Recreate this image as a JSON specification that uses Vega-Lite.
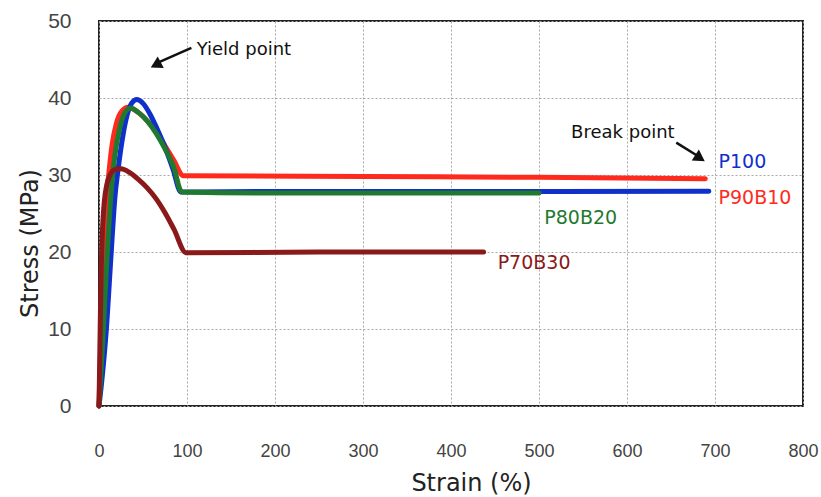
{
  "$schema": "https://vega.github.io/schema/vega-lite/v6.json",
  "width": 704,
  "height": 385,
  "autosize": {"type": "none"},
  "padding": {"left": 99, "top": 21, "right": 18, "bottom": 91},
  "background": "white",
  "config": {
    "view": {"stroke": "#222", "strokeWidth": 2},
    "font": "DejaVu Sans",
    "axis": {
      "grid": true,
      "gridColor": "#aaa",
      "gridDash": [2, 2],
      "gridWidth": 1,
      "domain": false,
      "ticks": false,
      "labelFlush": false,
      "labelFont": "Liberation Sans",
      "labelFontSize": 18,
      "labelColor": "#444",
      "titleFont": "DejaVu Sans",
      "titleFontSize": 24,
      "titleFontWeight": "normal",
      "titleColor": "#222"
    }
  },
  "datasets": {
    "curves": [
      {"series": "P90B10", "strain": 0, "stress": 0},
      {"series": "P90B10", "strain": 1.5, "stress": 6},
      {"series": "P90B10", "strain": 3, "stress": 12},
      {"series": "P90B10", "strain": 5, "stress": 19},
      {"series": "P90B10", "strain": 8, "stress": 26},
      {"series": "P90B10", "strain": 11, "stress": 30},
      {"series": "P90B10", "strain": 15, "stress": 34},
      {"series": "P90B10", "strain": 20, "stress": 36.8},
      {"series": "P90B10", "strain": 26, "stress": 38.3},
      {"series": "P90B10", "strain": 33, "stress": 38.8},
      {"series": "P90B10", "strain": 45, "stress": 38.1},
      {"series": "P90B10", "strain": 55, "stress": 37.0},
      {"series": "P90B10", "strain": 65, "stress": 35.6},
      {"series": "P90B10", "strain": 75, "stress": 33.8},
      {"series": "P90B10", "strain": 85, "stress": 31.9},
      {"series": "P90B10", "strain": 96, "stress": 29.9},
      {"series": "P90B10", "strain": 300, "stress": 29.8},
      {"series": "P90B10", "strain": 500, "stress": 29.7},
      {"series": "P90B10", "strain": 689, "stress": 29.5},
      {"series": "P100", "strain": 0, "stress": 0},
      {"series": "P100", "strain": 2.5, "stress": 2.5},
      {"series": "P100", "strain": 5.5, "stress": 6},
      {"series": "P100", "strain": 9, "stress": 11},
      {"series": "P100", "strain": 12, "stress": 16.5},
      {"series": "P100", "strain": 15, "stress": 22},
      {"series": "P100", "strain": 18, "stress": 27},
      {"series": "P100", "strain": 22, "stress": 31},
      {"series": "P100", "strain": 27, "stress": 35},
      {"series": "P100", "strain": 32, "stress": 37.8},
      {"series": "P100", "strain": 37, "stress": 39.3},
      {"series": "P100", "strain": 43, "stress": 39.8},
      {"series": "P100", "strain": 50, "stress": 39.3},
      {"series": "P100", "strain": 58, "stress": 37.9},
      {"series": "P100", "strain": 66, "stress": 36.0},
      {"series": "P100", "strain": 75, "stress": 33.6},
      {"series": "P100", "strain": 84, "stress": 30.8},
      {"series": "P100", "strain": 93, "stress": 27.8},
      {"series": "P100", "strain": 200, "stress": 27.85},
      {"series": "P100", "strain": 400, "stress": 27.85},
      {"series": "P100", "strain": 693, "stress": 27.9},
      {"series": "P80B20", "strain": 0, "stress": 0},
      {"series": "P80B20", "strain": 2.5, "stress": 5},
      {"series": "P80B20", "strain": 5, "stress": 10},
      {"series": "P80B20", "strain": 8, "stress": 17},
      {"series": "P80B20", "strain": 11, "stress": 23},
      {"series": "P80B20", "strain": 14, "stress": 28},
      {"series": "P80B20", "strain": 18, "stress": 32.5},
      {"series": "P80B20", "strain": 23, "stress": 35.8},
      {"series": "P80B20", "strain": 29, "stress": 38},
      {"series": "P80B20", "strain": 36, "stress": 38.7},
      {"series": "P80B20", "strain": 45, "stress": 38.1},
      {"series": "P80B20", "strain": 55, "stress": 37.0},
      {"series": "P80B20", "strain": 65, "stress": 35.4},
      {"series": "P80B20", "strain": 75, "stress": 33.4},
      {"series": "P80B20", "strain": 85, "stress": 31.0},
      {"series": "P80B20", "strain": 94, "stress": 27.8},
      {"series": "P80B20", "strain": 200, "stress": 27.65},
      {"series": "P80B20", "strain": 500, "stress": 27.65},
      {"series": "P70B30", "strain": 0, "stress": 0},
      {"series": "P70B30", "strain": 0.8, "stress": 6},
      {"series": "P70B30", "strain": 1.6, "stress": 12},
      {"series": "P70B30", "strain": 2.6, "stress": 18},
      {"series": "P70B30", "strain": 4, "stress": 23},
      {"series": "P70B30", "strain": 6, "stress": 26.5},
      {"series": "P70B30", "strain": 9, "stress": 28.8},
      {"series": "P70B30", "strain": 13, "stress": 30.1},
      {"series": "P70B30", "strain": 18, "stress": 30.7},
      {"series": "P70B30", "strain": 25, "stress": 30.8},
      {"series": "P70B30", "strain": 35, "stress": 30.3},
      {"series": "P70B30", "strain": 45, "stress": 29.4},
      {"series": "P70B30", "strain": 55, "stress": 28.3},
      {"series": "P70B30", "strain": 65, "stress": 26.9},
      {"series": "P70B30", "strain": 75, "stress": 25.1},
      {"series": "P70B30", "strain": 85, "stress": 23.0},
      {"series": "P70B30", "strain": 99, "stress": 19.9},
      {"series": "P70B30", "strain": 250, "stress": 20},
      {"series": "P70B30", "strain": 437, "stress": 20}
    ],
    "labels": [
      {"series": "P100", "strain": 704, "stress": 31.7},
      {"series": "P90B10", "strain": 704, "stress": 27.0},
      {"series": "P80B20", "strain": 506, "stress": 24.4},
      {"series": "P70B30", "strain": 453, "stress": 18.6}
    ],
    "notes": [
      {"note": "Yield point", "strain": 111, "stress": 46.2},
      {"note": "Break point", "strain": 536.5, "stress": 35.45}
    ],
    "arrows": [
      {"name": "yield", "strain": 105, "stress": 46.5, "strain2": 67, "stress2": 44.6, "hx": 64.5, "hy": 44.3},
      {"name": "break", "strain": 656, "stress": 34.2, "strain2": 680, "stress2": 32.5, "hx": 683, "hy": 32.2}
    ]
  },
  "layer": [
    {
      "data": {"name": "curves"},
      "mark": {"type": "line", "interpolate": "monotone", "strokeWidth": 5, "strokeCap": "round", "strokeJoin": "round"},
      "encoding": {
        "x": {"field": "strain", "type": "quantitative", "scale": {"domain": [0, 800], "nice": false, "zero": false},
          "axis": {"values": [0, 100, 200, 300, 400, 500, 600, 700, 800], "labelPadding": 36, "title": "Strain (%)", "titleX": 372, "titleY": 77, "titleBaseline": "middle", "titleAlign": "center"}},
        "y": {"field": "stress", "type": "quantitative", "scale": {"domain": [0, 50], "nice": false},
          "axis": {"values": [0, 10, 20, 30, 40, 50], "labelPadding": 28, "labelFontSize": 21, "title": "Stress (MPa)", "titleX": -69, "titleY": 222, "titleAngle": -90, "titleBaseline": "middle", "titleAlign": "center"}},
        "color": {"field": "series", "type": "nominal", "legend": null,
          "scale": {"domain": ["P90B10", "P100", "P80B20", "P70B30"], "range": ["#ff2a1e", "#1030cc", "#1f7a30", "#8a1a1a"]}},
        "detail": {"field": "series"}
      }
    },
    {
      "data": {"name": "labels"},
      "mark": {"type": "text", "align": "left", "baseline": "middle", "fontSize": 19, "font": "DejaVu Sans"},
      "encoding": {
        "x": {"field": "strain", "type": "quantitative"},
        "y": {"field": "stress", "type": "quantitative"},
        "text": {"field": "series"},
        "color": {"field": "series", "type": "nominal", "legend": null,
          "scale": {"domain": ["P90B10", "P100", "P80B20", "P70B30"], "range": ["#ff2a1e", "#1030cc", "#1f7a30", "#8a1a1a"]}}
      }
    },
    {
      "data": {"name": "notes"},
      "mark": {"type": "text", "align": "left", "baseline": "middle", "fontSize": 18, "font": "DejaVu Sans", "color": "#111"},
      "encoding": {
        "x": {"field": "strain", "type": "quantitative"},
        "y": {"field": "stress", "type": "quantitative"},
        "text": {"field": "note"}
      }
    },
    {
      "data": {"name": "arrows"},
      "mark": {"type": "rule", "color": "#111", "strokeWidth": 2.5},
      "encoding": {
        "x": {"field": "strain", "type": "quantitative"},
        "y": {"field": "stress", "type": "quantitative"},
        "x2": {"field": "strain2"},
        "y2": {"field": "stress2"}
      }
    },
    {
      "data": {"name": "arrows"},
      "transform": [{"filter": "datum.name === 'yield'"}],
      "mark": {"type": "point", "shape": "triangle-up", "filled": true, "color": "#111", "opacity": 1, "size": 170, "angle": 242},
      "encoding": {
        "x": {"field": "hx", "type": "quantitative"},
        "y": {"field": "hy", "type": "quantitative"}
      }
    },
    {
      "data": {"name": "arrows"},
      "transform": [{"filter": "datum.name === 'break'"}],
      "mark": {"type": "point", "shape": "triangle-up", "filled": true, "color": "#111", "opacity": 1, "size": 170, "angle": 123},
      "encoding": {
        "x": {"field": "hx", "type": "quantitative"},
        "y": {"field": "hy", "type": "quantitative"}
      }
    }
  ]
}
